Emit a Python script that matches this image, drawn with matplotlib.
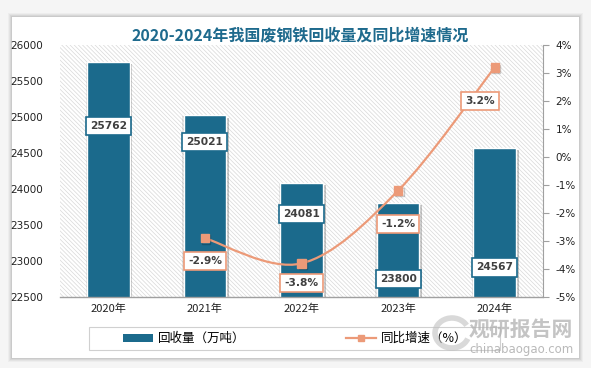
import numpy as np
import matplotlib
matplotlib.use("Agg")
import matplotlib.pyplot as plt
from matplotlib.patches import Rectangle, Arc
from matplotlib.path import Path
from matplotlib.patches import PathPatch
from matplotlib.lines import Line2D
import matplotlib.patheffects as pe

plt.rcParams['font.family'] = ['Noto Sans CJK SC', 'DejaVu Sans']
plt.rcParams['hatch.color'] = '#D8D8D8'
plt.rcParams['hatch.linewidth'] = 0.5

# ---- data ----
years = ['2020年', '2021年', '2022年', '2023年', '2024年']
volume = [25762, 25021, 24081, 23800, 24567]          # 回收量（万吨）
growth_years_idx = [1, 2, 3, 4]
growth = [-2.9, -3.8, -1.2, 3.2]                     # 同比增速（%）
left_ticks = [22500, 23000, 23500, 24000, 24500, 25000, 25500, 26000]
right_ticks = [-5, -4, -3, -2, -1, 0, 1, 2, 3, 4]

# label placement (positions only)
bar_label_y = [24875, 24655, 23655, 22745, 22910]
pct_label_dy = [-0.8, -0.7, -1.2, -1.2]
pct_label_dx = [0, 0, 0, -0.15]

BLUE = '#1B6A8C'
ORANGE = '#EC9A78'
TXT = '#404040'

fig = plt.figure(figsize=(5.91, 3.68), dpi=100)
fig.patch.set_facecolor('#F5F5F5')

W, H = 591, 368
def fx(x): return x / W
def fy(y): return 1 - y / H

# card shadow + card
for i, a in enumerate([0.03, 0.04, 0.05, 0.06]):
    d = 4 - i
    fig.patches.append(Rectangle((fx(12 - d), fy(358 + d)), fx(567 + 2 * d), (341 + 2 * d) / H,
                                 transform=fig.transFigure, facecolor='black', alpha=a,
                                 edgecolor='none', zorder=-10))
fig.patches.append(Rectangle((fx(12), fy(358)), fx(567), 341 / H, transform=fig.transFigure,
                             facecolor='white', edgecolor='none', zorder=-9))

ax = fig.add_axes([fx(60), fy(297), fx(543 - 60), (297 - 45) / H])
ax.set_zorder(1)
ax.set_facecolor('white')
ax.add_patch(Rectangle((0, 0), 1, 1, transform=ax.transAxes, facecolor='white',
                       hatch='\\\\\\\\\\\\\\\\', edgecolor='#D8D8D8', linewidth=0, zorder=0))

x = np.arange(len(years))
shadow = [pe.SimplePatchShadow(offset=(2, -1.5), shadow_rgbFace='#000000', alpha=0.22),
          pe.SimplePatchShadow(offset=(-1, -0.5), shadow_rgbFace='#000000', alpha=0.10),
          pe.Normal()]
bars = ax.bar(x, volume, width=0.44, color=BLUE, edgecolor='white', linewidth=1.0, zorder=3,
              path_effects=shadow)
ax.set_ylim(22500, 26000)
ax.set_xlim(-0.5, 4.5)
ax.set_yticks(left_ticks)
ax.set_yticklabels([str(t) for t in left_ticks], fontsize=7.5, color='#222222',
                   family=['DejaVu Sans'])
ax.tick_params(axis='y', length=0, pad=12)
ax.set_xticks(x)
ax.set_xticklabels(years, fontsize=8, color='#222222')
ax.tick_params(axis='x', length=0, pad=5)
for s in ['top', 'left', 'right']:
    ax.spines[s].set_visible(False)
ax.spines['bottom'].set_color('#A0A0A0')
ax.spines['bottom'].set_linewidth(1.0)
ax.spines['bottom'].set_zorder(5)

for xi, v, ly in zip(x, volume, bar_label_y):
    ax.text(xi, ly, str(v), ha='center', va='center', fontsize=7.7, color=TXT,
            fontweight='bold', family=['DejaVu Sans'], zorder=6,
            bbox=dict(boxstyle='square,pad=0.38', facecolor='white', edgecolor=BLUE, linewidth=1.2))

ax2 = ax.twinx()
ax2.set_zorder(2)
ax2.patch.set_visible(False)
ax2.set_ylim(-5, 4)
ax2.set_yticks(right_ticks)
ax2.set_yticklabels([f'{t}%' for t in right_ticks], fontsize=7.5, color='#222222',
                    family=['DejaVu Sans'])
ax2.tick_params(axis='y', length=4, width=0.8, color='#A0A0A0', pad=5)
for s in ['top', 'left', 'bottom']:
    ax2.spines[s].set_visible(False)
ax2.spines['right'].set_color('#A0A0A0')

# smooth line (Catmull-Rom style bezier, like Excel smoothing)
px = np.array(growth_years_idx, dtype=float)
py = np.array(growth, dtype=float)
P = np.column_stack([px, py])
n = len(P)
verts = [P[0]]
codes = [Path.MOVETO]
for i in range(n - 1):
    p0 = P[i - 1] if i > 0 else P[i]
    p1 = P[i]
    p2 = P[i + 1]
    p3 = P[i + 2] if i + 2 < n else P[i + 1]
    c1 = p1 + (p2 - p0) / 6.0
    c2 = p2 - (p3 - p1) / 6.0
    verts += [c1, c2, p2]
    codes += [Path.CURVE4] * 3
ax2.add_patch(PathPatch(Path(verts, codes), facecolor='none', edgecolor=ORANGE, linewidth=1.6,
                        zorder=4))
ax2.plot(px, py, linestyle='none', marker='s', markersize=6, color=ORANGE, zorder=5,
         path_effects=[pe.SimpleLineShadow(offset=(1, -1), alpha=0.2), pe.Normal()])

for xi, g, dy, dx in zip(px, py, pct_label_dy, pct_label_dx):
    ax2.text(xi + dx, g + dy, f'{g}%', ha='center', va='center', fontsize=7.7, color=TXT,
             fontweight='bold', family=['DejaVu Sans'], zorder=6,
             bbox=dict(boxstyle='square,pad=0.38', facecolor='white', edgecolor=ORANGE, linewidth=1.2))

# title
fig.text(fx(300), fy(35), '2020-2024年我国废钢铁回收量及同比增速情况', ha='center', va='center',
         fontsize=11.5, fontweight='bold', color='#1E6A8D')

# legend frame + legend
fig.patches.append(Rectangle((fx(89), fy(350)), fx(500 - 89), 23 / H, transform=fig.transFigure,
                             facecolor='white', edgecolor='#D0D0D0', linewidth=0.8, zorder=-5))
h1 = Rectangle((0, 0), 1, 1, facecolor=BLUE, edgecolor='none')
h2 = Line2D([0], [0], color=ORANGE, marker='s', markersize=5, linewidth=1.6)
fig.legend([h1, h2], ['回收量（万吨）', '同比增速（%）'], ncol=2, loc='center',
           bbox_to_anchor=(fx(295), fy(338.5)), frameon=False, fontsize=9,
           handlelength=2.4, handleheight=0.6, columnspacing=8, handletextpad=0.4)

# watermark
fig.patches.append(Arc((fx(452), fy(333)), fx(34), 30 / H, angle=0, theta1=40, theta2=330,
                       transform=fig.transFigure, color='#C0C0C0', linewidth=4, alpha=0.6, zorder=10))
fig.text(fx(521), fy(329), '观研报告网', ha='center', va='center', fontsize=15, fontweight='bold',
         color='#B0B0B0', alpha=0.75, zorder=10)
fig.text(fx(521), fy(350), 'chinabaogao.com', ha='center', va='center', fontsize=8.5,
         color='#A8A8A8', alpha=0.8, family=['DejaVu Sans'], zorder=10)

fig.savefig('out.png', dpi=100, facecolor=fig.get_facecolor())
